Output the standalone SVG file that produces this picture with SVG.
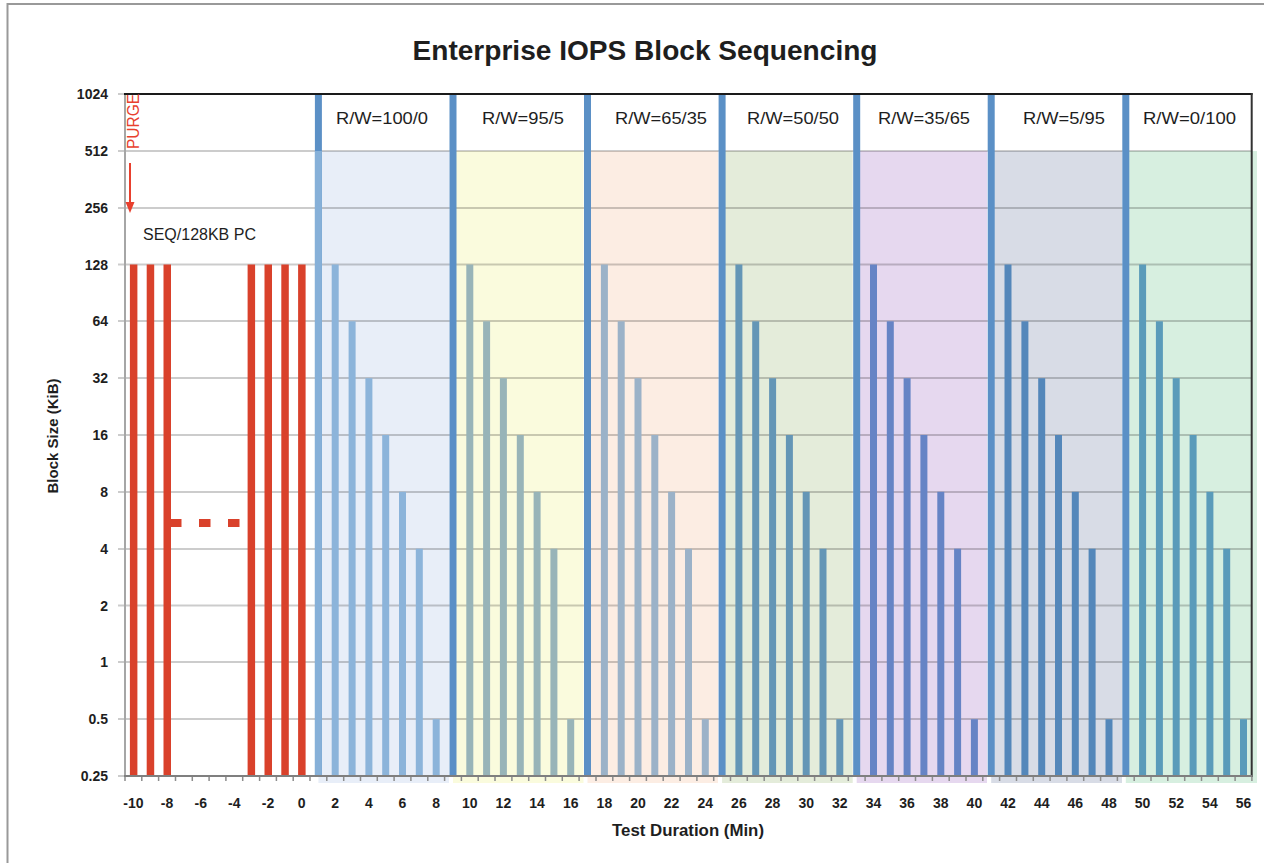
<svg xmlns="http://www.w3.org/2000/svg" width="1264" height="863" viewBox="0 0 1264 863">
<style>
text{font-family:"Liberation Sans",Arial,sans-serif;fill:#1e1e1e}
.yl{font-size:14px;font-weight:bold;text-anchor:end}
.xl{font-size:14px;font-weight:bold;text-anchor:middle}
.rw{font-size:17px;text-anchor:middle}
.grid{stroke:#000;stroke-opacity:0.2;stroke-width:2}
.red{fill:#d9412b}
.div{fill:#5b90c6}
.s0{fill:#8cb4da}.s1{fill:#98b4b8}.s2{fill:#9bb2c8}.s3{fill:#6496b6}.s4{fill:#6684c5}.s5{fill:#5487ba}.s6{fill:#5a9bba}
</style>
<rect x="0" y="0" width="1264" height="863" fill="#fff"/>
<rect x="7.5" y="4" width="1300" height="900" fill="none" stroke="#999" stroke-width="2"/>
<text x="645" y="60" font-size="28" font-weight="bold" text-anchor="middle" textLength="465" lengthAdjust="spacingAndGlyphs">Enterprise IOPS Block Sequencing</text>

<g id="fills">
<rect x="318.4" y="151" width="130.6" height="632" fill="#e8eef8"/>
<rect x="453" y="151" width="130.5" height="632" fill="#fafbdd"/>
<rect x="587.5" y="151" width="130.5" height="632" fill="#fcede3"/>
<rect x="722.1" y="151" width="130.6" height="632" fill="#e4ecda"/>
<rect x="856.7" y="151" width="130.3" height="632" fill="#e6d8ef"/>
<rect x="991.2" y="151" width="130.8" height="632" fill="#d8dce6"/>
<rect x="1125.8" y="151" width="131.2" height="632" fill="#d7efe0"/>
</g>

<g id="grid">
<line class="grid" x1="118" y1="151" x2="1252" y2="151"/>
<line class="grid" x1="118" y1="208" x2="1252" y2="208"/>
<line class="grid" x1="118" y1="264.5" x2="1252" y2="264.5"/>
<line class="grid" x1="118" y1="321" x2="1252" y2="321"/>
<line class="grid" x1="118" y1="378" x2="1252" y2="378"/>
<line class="grid" x1="118" y1="435" x2="1252" y2="435"/>
<line class="grid" x1="118" y1="492" x2="1252" y2="492"/>
<line class="grid" x1="118" y1="549" x2="1252" y2="549"/>
<line class="grid" x1="118" y1="605.5" x2="1252" y2="605.5"/>
<line class="grid" x1="118" y1="662" x2="1252" y2="662"/>
<line class="grid" x1="118" y1="719" x2="1252" y2="719"/>
<line class="grid" x1="118" y1="94" x2="125" y2="94"/>
<line class="grid" x1="118" y1="776" x2="125" y2="776"/>
</g>

<g id="red-bars">
<rect class="red" x="129.9" y="264.5" width="7.5" height="511.5"/>
<rect class="red" x="146.7" y="264.5" width="7.5" height="511.5"/>
<rect class="red" x="163.5" y="264.5" width="7.5" height="511.5"/>
<rect class="red" x="247.6" y="264.5" width="7.5" height="511.5"/>
<rect class="red" x="264.5" y="264.5" width="7.5" height="511.5"/>
<rect class="red" x="281.3" y="264.5" width="7.5" height="511.5"/>
<rect class="red" x="298.1" y="264.5" width="7.5" height="511.5"/>
<line x1="170" y1="523" x2="241" y2="523" stroke="#d9412b" stroke-width="8" stroke-dasharray="11.5 17.5"/>
</g>

<g id="dividers">
<rect class="div" x="314.9" y="94" width="7" height="682"/>
<rect x="314.9" y="151" width="7" height="625" fill="#86b0d8"/>
<rect class="div" x="449.5" y="94" width="7" height="682"/>
<rect class="div" x="584" y="94" width="7" height="682"/>
<rect class="div" x="718.6" y="94" width="7" height="682"/>
<rect class="div" x="853.2" y="94" width="7" height="682"/>
<rect class="div" x="987.7" y="94" width="7" height="682"/>
<rect class="div" x="1122.3" y="94" width="7" height="682"/>
</g>

<g id="seg-100-0" class="s0">
<rect x="331.7" y="264.5" width="7" height="511.5"/>
<rect x="348.6" y="321.3" width="7" height="454.7"/>
<rect x="365.4" y="378.2" width="7" height="397.8"/>
<rect x="382.2" y="435" width="7" height="341"/>
<rect x="399" y="491.8" width="7" height="284.2"/>
<rect x="415.8" y="548.7" width="7" height="227.3"/>
<rect x="432.7" y="719.2" width="7" height="56.8"/>
</g>
<g id="seg-95-5" class="s1">
<rect x="466.3" y="264.5" width="7" height="511.5"/>
<rect x="483.1" y="321.3" width="7" height="454.7"/>
<rect x="499.9" y="378.2" width="7" height="397.8"/>
<rect x="516.8" y="435" width="7" height="341"/>
<rect x="533.6" y="491.8" width="7" height="284.2"/>
<rect x="550.4" y="548.7" width="7" height="227.3"/>
<rect x="567.2" y="719.2" width="7" height="56.8"/>
</g>
<g id="seg-65-35" class="s2">
<rect x="600.9" y="264.5" width="7" height="511.5"/>
<rect x="617.7" y="321.3" width="7" height="454.7"/>
<rect x="634.5" y="378.2" width="7" height="397.8"/>
<rect x="651.3" y="435" width="7" height="341"/>
<rect x="668.1" y="491.8" width="7" height="284.2"/>
<rect x="685" y="548.7" width="7" height="227.3"/>
<rect x="701.8" y="719.2" width="7" height="56.8"/>
</g>
<g id="seg-50-50" class="s3">
<rect x="735.4" y="264.5" width="7" height="511.5"/>
<rect x="752.2" y="321.3" width="7" height="454.7"/>
<rect x="769.1" y="378.2" width="7" height="397.8"/>
<rect x="785.9" y="435" width="7" height="341"/>
<rect x="802.7" y="491.8" width="7" height="284.2"/>
<rect x="819.5" y="548.7" width="7" height="227.3"/>
<rect x="836.3" y="719.2" width="7" height="56.8"/>
</g>
<g id="seg-35-65" class="s4">
<rect x="870" y="264.5" width="7" height="511.5"/>
<rect x="886.8" y="321.3" width="7" height="454.7"/>
<rect x="903.6" y="378.2" width="7" height="397.8"/>
<rect x="920.4" y="435" width="7" height="341"/>
<rect x="937.3" y="491.8" width="7" height="284.2"/>
<rect x="954.1" y="548.7" width="7" height="227.3"/>
<rect x="970.9" y="719.2" width="7" height="56.8"/>
</g>
<g id="seg-5-95" class="s5">
<rect x="1004.5" y="264.5" width="7" height="511.5"/>
<rect x="1021.4" y="321.3" width="7" height="454.7"/>
<rect x="1038.2" y="378.2" width="7" height="397.8"/>
<rect x="1055" y="435" width="7" height="341"/>
<rect x="1071.8" y="491.8" width="7" height="284.2"/>
<rect x="1088.6" y="548.7" width="7" height="227.3"/>
<rect x="1105.5" y="719.2" width="7" height="56.8"/>
</g>
<g id="seg-0-100" class="s6">
<rect x="1139.1" y="264.5" width="7" height="511.5"/>
<rect x="1155.9" y="321.3" width="7" height="454.7"/>
<rect x="1172.7" y="378.2" width="7" height="397.8"/>
<rect x="1189.6" y="435" width="7" height="341"/>
<rect x="1206.4" y="491.8" width="7" height="284.2"/>
<rect x="1223.2" y="548.7" width="7" height="227.3"/>
<rect x="1240" y="719.2" width="7" height="56.8"/>
</g>

<g id="axes">
<line x1="125" y1="94" x2="125" y2="777" stroke="#a6a6a6" stroke-width="2"/>
<line x1="124" y1="94" x2="1252.5" y2="94" stroke="#1a1a1a" stroke-width="2"/>
<line x1="1251.7" y1="93" x2="1251.7" y2="777" stroke="#333" stroke-width="2"/>
<line x1="124" y1="776" x2="1252.5" y2="776" stroke="#7f7f7f" stroke-width="2"/>
<path d="M125 777v4M141.8 777v4M158.6 777v4M175.5 777v4M192.3 777v4M209.1 777v4M225.9 777v4M242.7 777v4M259.6 777v4M276.4 777v4M293.2 777v4M310 777v4M326.8 777v4M343.7 777v4M360.5 777v4M377.3 777v4M394.1 777v4M410.9 777v4M427.8 777v4M444.6 777v4M461.4 777v4M478.2 777v4M495 777v4M511.9 777v4M528.7 777v4M545.5 777v4M562.3 777v4M579.1 777v4M596 777v4M612.8 777v4M629.6 777v4M646.4 777v4M663.2 777v4M680.1 777v4M696.9 777v4M713.7 777v4M730.5 777v4M747.3 777v4M764.2 777v4M781 777v4M797.8 777v4M814.6 777v4M831.4 777v4M848.3 777v4M865.1 777v4M881.9 777v4M898.7 777v4M915.5 777v4M932.4 777v4M949.2 777v4M966 777v4M982.8 777v4M999.6 777v4M1016.5 777v4M1033.3 777v4M1050.1 777v4M1066.9 777v4M1083.7 777v4M1100.6 777v4M1117.4 777v4M1134.2 777v4M1151 777v4M1167.8 777v4M1184.7 777v4M1201.5 777v4M1218.3 777v4M1235.1 777v4M1251.9 777v4" stroke="#8c8c8c" stroke-width="1.5"/>
</g>

<g id="y-labels">
<text class="yl" x="108" y="99">1024</text>
<text class="yl" x="108" y="156">512</text>
<text class="yl" x="108" y="213">256</text>
<text class="yl" x="108" y="269.5">128</text>
<text class="yl" x="108" y="326">64</text>
<text class="yl" x="108" y="383">32</text>
<text class="yl" x="108" y="440">16</text>
<text class="yl" x="108" y="497">8</text>
<text class="yl" x="108" y="554">4</text>
<text class="yl" x="108" y="610.5">2</text>
<text class="yl" x="108" y="667">1</text>
<text class="yl" x="108" y="724">0.5</text>
<text class="yl" x="108" y="781">0.25</text>
</g>
<text transform="translate(58,436) rotate(-90)" font-size="14" font-weight="bold" text-anchor="middle" textLength="115" lengthAdjust="spacingAndGlyphs">Block Size (KiB)</text>

<g id="x-labels">
<text class="xl" x="133.4" y="808">-10</text>
<text class="xl" x="167" y="808">-8</text>
<text class="xl" x="200.7" y="808">-6</text>
<text class="xl" x="234.3" y="808">-4</text>
<text class="xl" x="268" y="808">-2</text>
<text class="xl" x="301.6" y="808">0</text>
<text class="xl" x="335.2" y="808">2</text>
<text class="xl" x="368.9" y="808">4</text>
<text class="xl" x="402.5" y="808">6</text>
<text class="xl" x="436.2" y="808">8</text>
<text class="xl" x="469.8" y="808">10</text>
<text class="xl" x="503.4" y="808">12</text>
<text class="xl" x="537.1" y="808">14</text>
<text class="xl" x="570.7" y="808">16</text>
<text class="xl" x="604.4" y="808">18</text>
<text class="xl" x="638" y="808">20</text>
<text class="xl" x="671.6" y="808">22</text>
<text class="xl" x="705.3" y="808">24</text>
<text class="xl" x="738.9" y="808">26</text>
<text class="xl" x="772.6" y="808">28</text>
<text class="xl" x="806.2" y="808">30</text>
<text class="xl" x="839.8" y="808">32</text>
<text class="xl" x="873.5" y="808">34</text>
<text class="xl" x="907.1" y="808">36</text>
<text class="xl" x="940.8" y="808">38</text>
<text class="xl" x="974.4" y="808">40</text>
<text class="xl" x="1008" y="808">42</text>
<text class="xl" x="1041.7" y="808">44</text>
<text class="xl" x="1075.3" y="808">46</text>
<text class="xl" x="1109" y="808">48</text>
<text class="xl" x="1142.6" y="808">50</text>
<text class="xl" x="1176.2" y="808">52</text>
<text class="xl" x="1209.9" y="808">54</text>
<text class="xl" x="1243.5" y="808">56</text>
</g>
<text x="688" y="836" font-size="16" font-weight="bold" text-anchor="middle" textLength="152" lengthAdjust="spacingAndGlyphs">Test Duration (Min)</text>

<g id="region-labels">
<text class="rw" x="382" y="124" textLength="92" lengthAdjust="spacingAndGlyphs">R/W=100/0</text>
<text class="rw" x="523" y="124" textLength="82" lengthAdjust="spacingAndGlyphs">R/W=95/5</text>
<text class="rw" x="661" y="124" textLength="92" lengthAdjust="spacingAndGlyphs">R/W=65/35</text>
<text class="rw" x="793" y="124" textLength="92" lengthAdjust="spacingAndGlyphs">R/W=50/50</text>
<text class="rw" x="924" y="124" textLength="92" lengthAdjust="spacingAndGlyphs">R/W=35/65</text>
<text class="rw" x="1064" y="124" textLength="82" lengthAdjust="spacingAndGlyphs">R/W=5/95</text>
<text class="rw" x="1189.5" y="124" textLength="93" lengthAdjust="spacingAndGlyphs">R/W=0/100</text>
</g>

<g id="purge">
<text transform="translate(139,149) rotate(-90)" font-size="16" textLength="55" lengthAdjust="spacingAndGlyphs" style="fill:#e8402e">PURGE</text>
<line x1="130" y1="163" x2="130" y2="204" stroke="#e8402e" stroke-width="2"/>
<polygon points="125.5,202 134.5,202 130,213" fill="#e8402e"/>
</g>
<text x="143" y="240" font-size="16">SEQ/128KB PC</text>
</svg>
